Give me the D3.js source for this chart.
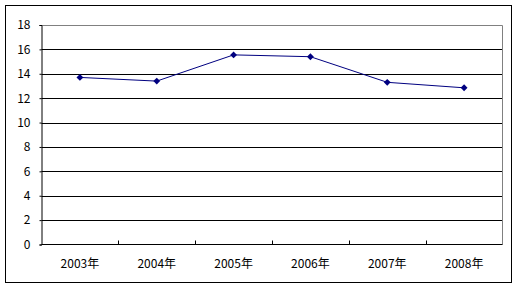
<!DOCTYPE html>
<html>
<head>
<meta charset="utf-8">
<script src="https://cdn.jsdelivr.net/npm/d3@7"></script>
<style>
  body { margin: 0; background: #fff; }
  text { font-family: "SimSun", "Noto Sans CJK SC", "DejaVu Sans", sans-serif; font-size: 11px; fill: #000; }
</style>
</head>
<body>
<div id="canvas"></div>
<script>
"use strict"

/* Data */
let years = ["2003年", "2004年", "2005年", "2006年", "2007年", "2008年"];
let values = [13.7, 13.4, 15.55, 15.4, 13.3, 12.85];
let yTicks = [0, 2, 4, 6, 8, 10, 12, 14, 16, 18];

let svgWidth = 519;
let svgHeight = 289;

/* plot area */
let plotLeft = 41.5, plotRight = 502.5, plotTop = 25, plotBottom = 244.5;

let svg = d3.select("#canvas")
    .append("svg")
    .attr("width", svgWidth)
    .attr("height", svgHeight);

/* outer frame */
svg.append("rect")
    .attr("x", 5.5)
    .attr("y", 5.5)
    .attr("width", 506)
    .attr("height", 277)
    .attr("fill", "white")
    .attr("stroke", "black");

let xScale = d3.scaleBand()
    .domain(years)
    .range([plotLeft, plotRight]);

let yScale = d3.scaleLinear()
    .domain([0, 18])
    .range([plotBottom, plotTop]);

/* gridlines */
svg.selectAll(".grid")
    .data(yTicks.filter(d => d > 0))
    .join("line")
    .attr("x1", plotLeft)
    .attr("x2", plotRight)
    .attr("y1", d => Math.round(yScale(d)) + 0.5)
    .attr("y2", d => Math.round(yScale(d)) + 0.5)
    .attr("stroke", d => d === 18 ? "#808080" : "black");

/* right border of plot area */
svg.append("line")
    .attr("x1", plotRight)
    .attr("x2", plotRight)
    .attr("y1", plotTop + 0.5)
    .attr("y2", plotBottom)
    .attr("stroke", "#808080");

/* y axis */
let yAxis = d3.axisLeft(yScale)
    .tickValues(yTicks)
    .tickSize(2)
    .tickPadding(9);

let yG = svg.append("g")
    .attr("transform", "translate(" + plotLeft + ",0)")
    .call(yAxis);
yG.select(".domain").attr("stroke", "black");
yG.selectAll(".tick line").attr("stroke", "black");
yG.selectAll(".tick text").style("font-size", "12px");

/* x axis: ticks between categories pointing up */
svg.append("line")
    .attr("x1", plotLeft)
    .attr("x2", plotRight)
    .attr("y1", plotBottom)
    .attr("y2", plotBottom)
    .attr("stroke", "black");

svg.selectAll(".xtick")
    .data(years.slice(1))
    .join("line")
    .attr("x1", d => Math.round(xScale(d)) + 0.5)
    .attr("x2", d => Math.round(xScale(d)) + 0.5)
    .attr("y1", plotBottom)
    .attr("y2", plotBottom - 4)
    .attr("stroke", "black");

svg.selectAll(".xlabel")
    .data(years)
    .join("text")
    .attr("x", d => xScale(d) + xScale.bandwidth() / 2)
    .attr("y", plotBottom + 23)
    .attr("text-anchor", "middle")
    .style("font-size", "12px")
    .text(d => d);

/* series line */
let line = d3.line()
    .x((d, i) => xScale(years[i]) + xScale.bandwidth() / 2)
    .y(d => yScale(d));

svg.append("path")
    .datum(values)
    .attr("d", line)
    .attr("fill", "none")
    .attr("stroke", "#000080")
    .attr("stroke-width", 1);

/* diamond markers */
svg.selectAll(".marker")
    .data(values)
    .join("path")
    .attr("d", d3.symbol(d3.symbolDiamond2, 30))
    .attr("transform", (d, i) => "translate(" + (xScale(years[i]) + xScale.bandwidth() / 2) + "," + yScale(d) + ")")
    .attr("fill", "#000080");
</script>
</body>
</html>
